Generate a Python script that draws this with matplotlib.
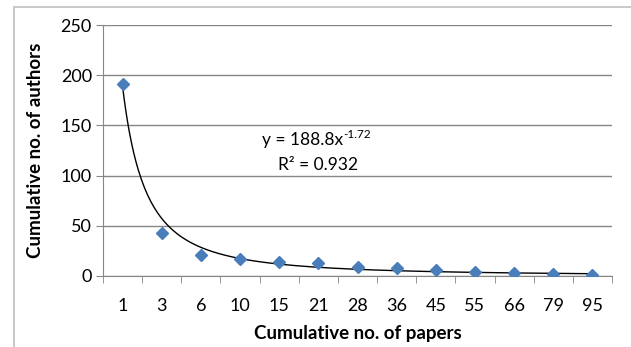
import numpy as np
import matplotlib.pyplot as plt
from matplotlib.patches import Rectangle

# Données
papers = ["1", "3", "6", "10", "15", "21", "28", "36", "45", "55", "66", "79", "95"]
authors = [191, 42.5, 20.5, 16.5, 14, 12.5, 8.7, 7.7, 5.7, 3.7, 2.7, 1.7, 0.5]
fit_a = 188.8
fit_b = -1.72
r2 = 0.932

plt.rcParams["font.family"] = ["Lato", "DejaVu Sans"]

W, H = 631, 347
fig = plt.figure(figsize=(W / 100, H / 100), dpi=100)

# Cadre de la zone du graphique
fig.patches.append(Rectangle((14 / W, -0.1), 1.2, (H - 7) / H + 0.1,
                             transform=fig.transFigure, fill=False,
                             edgecolor="#bfbfbf", linewidth=1.2))

ax = fig.add_axes([103 / W, (H - 276) / H, (612 - 103) / W, (276 - 25) / H])

x = np.arange(1, len(papers) + 1)

# Courbe de tendance (puissance)
xs = np.linspace(1, len(papers), 300)
ax.plot(xs, fit_a * xs ** fit_b, color="black", linewidth=1.0, zorder=2)

ax.plot(x, authors, linestyle="none", marker="D", markersize=6.5,
        color="#4a7ebb", zorder=3)

ax.set_xlim(0.5, len(papers) + 0.5)
ax.set_ylim(0, 250)
ax.set_yticks(range(0, 251, 50))
ax.yaxis.grid(True, color="#868686", linewidth=1.0)
ax.set_axisbelow(True)

ax.set_xticks(x)
ax.set_xticklabels(papers)
ax.set_xticks(np.arange(0.5, len(papers) + 1, 1), minor=True)
ax.tick_params(axis="x", which="major", length=0, pad=16, labelsize=13)
ax.tick_params(axis="x", which="minor", length=5, color="#868686", direction="out")
ax.tick_params(axis="y", length=5, color="#868686", labelsize=13, pad=3)

for side in ["top", "right"]:
    ax.spines[side].set_visible(False)
for side in ["left", "bottom"]:
    ax.spines[side].set_color("#868686")

ax.set_xlabel("Cumulative no. of papers", fontsize=13.5, fontweight="bold", labelpad=8)
ax.set_ylabel("Cumulative no. of authors", fontsize=13.5, fontweight="bold", labelpad=12)

# Équation de la tendance
eq = ax.text(5.6, 135, "y = 188.8x", ha="center", va="center", fontsize=12.5)
ax.annotate("%.2f" % fit_b, xy=(1, 0.9), xycoords=eq, ha="left", va="center",
            fontsize=8.5)
ax.text(6.0, 111, "R² = %.3f" % r2, ha="center", va="center", fontsize=12.5)

fig.savefig("out.png", dpi=100)
